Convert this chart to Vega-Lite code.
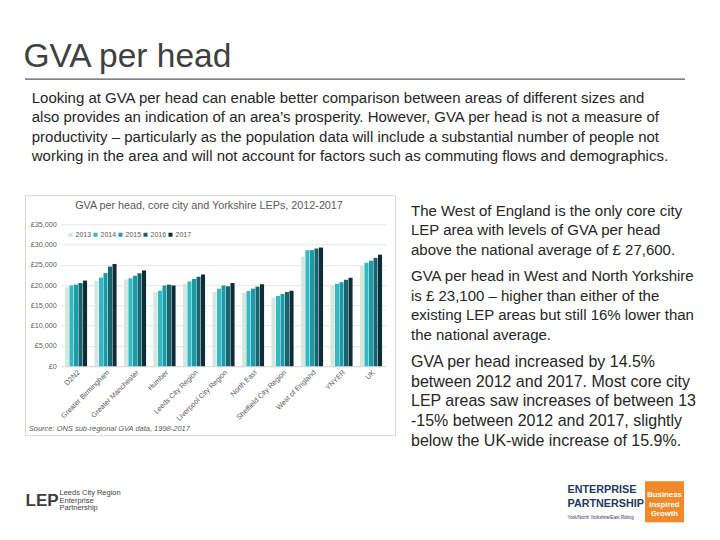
{
  "$schema": "https://vega.github.io/schema/vega-lite/v6.json",
  "background": "white",
  "padding": {"left": 23, "top": 40.2, "right": 5, "bottom": 5},
  "config": {
    "font": "Liberation Sans",
    "view": {"stroke": null},
    "title": {"font": "Liberation Sans", "subtitleFont": "Liberation Sans"},
    "axis": {"labelFont": "Liberation Sans", "titleFont": "Liberation Sans"},
    "legend": {"labelFont": "Liberation Sans"}
  },
  "bounds": "flush",
  "spacing": 0,
  "vconcat": [
    {
      "width": 660,
      "height": 0,
      "title": {
        "text": "GVA per head",
        "subtitle": [
          "\u200b\u00a0\u00a0Looking at GVA per head can enable better comparison between areas of different sizes and",
          "\u200b\u00a0\u00a0also provides an indication of an area’s prosperity. However, GVA per head is not a measure of",
          "\u200b\u00a0\u00a0productivity – particularly as the population data will include a substantial number of people not",
          "\u200b\u00a0\u00a0working in the area and will not account for factors such as commuting flows and demographics."
        ],
        "anchor": "start",
        "dx": -1,
        "fontSize": 33.5,
        "fontWeight": "normal",
        "color": "#404040",
        "subtitleFontSize": 15,
        "subtitleColor": "#262626",
        "subtitleLineHeight": 19.3,
        "subtitlePadding": 16.3,
        "offset": -95.8
      },
      "data": {"values": [{}]},
      "mark": {"type": "rule", "color": "#595959", "strokeWidth": 1.2},
      "encoding": {
        "x": {"datum": 0, "type": "quantitative", "scale": {"domain": [0, 1]}, "axis": null},
        "x2": {"datum": 1}
      }
    },
    {
      "width": 1,
      "height": 105.6,
      "data": {"values": [{}]},
      "mark": {"type": "rule"},
      "encoding": {}
    },
    {
      "vconcat": [
        {
          "width": 370,
          "height": 240,
          "view": {"stroke": "#d9d9d9", "strokeWidth": 1},
          "data": {"values": [{}]},
          "mark": {"type": "rule"},
          "encoding": {}
        }
      ]
    },
    {
      "width": 1,
      "height": 28.6,
      "data": {"values": [{}]},
      "mark": {"type": "rule"},
      "encoding": {}
    },
    {
      "bounds": "flush",
      "spacing": 24.25,
      "hconcat": [
        {
          "width": 12,
          "height": 142,
          "data": {"values": [{}]},
          "mark": {"type": "rule"},
          "encoding": {}
        },
        {
          "width": 324.5,
          "height": 142,
          "title": {
            "text": "GVA per head, core city and Yorkshire LEPs, 2012-2017",
            "fontSize": 10.8,
            "fontWeight": "normal",
            "color": "#595959",
            "anchor": "middle",
            "dx": -14.5,
            "offset": 9
          },
          "data": {
            "values": [
              {"area": "D2N2", "year": "2013", "gva": 19450},
              {"area": "D2N2", "year": "2014", "gva": 19900},
              {"area": "D2N2", "year": "2015", "gva": 20100},
              {"area": "D2N2", "year": "2016", "gva": 20500},
              {"area": "D2N2", "year": "2017", "gva": 21100},
              {"area": "Greater Birmingham", "year": "2013", "gva": 21050},
              {"area": "Greater Birmingham", "year": "2014", "gva": 21850},
              {"area": "Greater Birmingham", "year": "2015", "gva": 22950},
              {"area": "Greater Birmingham", "year": "2016", "gva": 24550},
              {"area": "Greater Birmingham", "year": "2017", "gva": 25200},
              {"area": "Greater Manchester", "year": "2013", "gva": 21350},
              {"area": "Greater Manchester", "year": "2014", "gva": 21650},
              {"area": "Greater Manchester", "year": "2015", "gva": 22300},
              {"area": "Greater Manchester", "year": "2016", "gva": 22900},
              {"area": "Greater Manchester", "year": "2017", "gva": 23600},
              {"area": "Humber", "year": "2013", "gva": 18350},
              {"area": "Humber", "year": "2014", "gva": 18600},
              {"area": "Humber", "year": "2015", "gva": 19900},
              {"area": "Humber", "year": "2016", "gva": 20100},
              {"area": "Humber", "year": "2017", "gva": 19900},
              {"area": "Leeds City Region", "year": "2013", "gva": 20300},
              {"area": "Leeds City Region", "year": "2014", "gva": 20900},
              {"area": "Leeds City Region", "year": "2015", "gva": 21500},
              {"area": "Leeds City Region", "year": "2016", "gva": 22050},
              {"area": "Leeds City Region", "year": "2017", "gva": 22600},
              {"area": "Liverpool City Region", "year": "2013", "gva": 18300},
              {"area": "Liverpool City Region", "year": "2014", "gva": 19100},
              {"area": "Liverpool City Region", "year": "2015", "gva": 19900},
              {"area": "Liverpool City Region", "year": "2016", "gva": 19700},
              {"area": "Liverpool City Region", "year": "2017", "gva": 20500},
              {"area": "North East", "year": "2013", "gva": 18100},
              {"area": "North East", "year": "2014", "gva": 18500},
              {"area": "North East", "year": "2015", "gva": 19100},
              {"area": "North East", "year": "2016", "gva": 19600},
              {"area": "North East", "year": "2017", "gva": 20200},
              {"area": "Sheffield City Region", "year": "2013", "gva": 16900},
              {"area": "Sheffield City Region", "year": "2014", "gva": 17300},
              {"area": "Sheffield City Region", "year": "2015", "gva": 17800},
              {"area": "Sheffield City Region", "year": "2016", "gva": 18300},
              {"area": "Sheffield City Region", "year": "2017", "gva": 18600},
              {"area": "West of England", "year": "2013", "gva": 27000},
              {"area": "West of England", "year": "2014", "gva": 28600},
              {"area": "West of England", "year": "2015", "gva": 28600},
              {"area": "West of England", "year": "2016", "gva": 29000},
              {"area": "West of England", "year": "2017", "gva": 29250},
              {"area": "YNYER", "year": "2013", "gva": 20000},
              {"area": "YNYER", "year": "2014", "gva": 20300},
              {"area": "YNYER", "year": "2015", "gva": 20700},
              {"area": "YNYER", "year": "2016", "gva": 21300},
              {"area": "YNYER", "year": "2017", "gva": 21800},
              {"area": "UK", "year": "2013", "gva": 24600},
              {"area": "UK", "year": "2014", "gva": 25500},
              {"area": "UK", "year": "2015", "gva": 26000},
              {"area": "UK", "year": "2016", "gva": 26700},
              {"area": "UK", "year": "2017", "gva": 27500}
            ]
          },
          "mark": {"type": "bar"},
          "encoding": {
            "x": {
              "field": "area",
              "type": "nominal",
              "sort": null,
              "scale": {"paddingInner": 0.25, "paddingOuter": 0.125},
              "axis": {
                "title": "Source: ONS sub-regional GVA data, 1998-2017",
                "titleFontStyle": "italic",
                "titleFontWeight": "normal",
                "titleFontSize": 7.5,
                "titleColor": "#595959",
                "titleX": -33,
                "titleY": 62,
                "titleAlign": "left",
                "titleBaseline": "middle",
                "labelAngle": -45,
                "labelFontSize": 7.2,
                "labelColor": "#595959",
                "labelPadding": 2,
                "ticks": false,
                "domainColor": "#d9d9d9"
              }
            },
            "y": {
              "field": "gva",
              "type": "quantitative",
              "scale": {"domain": [0, 35000], "nice": false},
              "axis": {
                "title": null,
                "values": [0, 5000, 10000, 15000, 20000, 25000, 30000, 35000],
                "labelExpr": "'£' + format(datum.value, ',')",
                "gridColor": "#e6e6e6",
                "domain": false,
                "ticks": false,
                "labelFontSize": 7.2,
                "labelColor": "#595959",
                "labelPadding": 5
              }
            },
            "xOffset": {"field": "year", "type": "nominal", "scale": {"paddingInner": 0.1}},
            "color": {
              "field": "year",
              "type": "nominal",
              "scale": {
                "domain": ["2013", "2014", "2015", "2016", "2017"],
                "range": ["#d6e7df", "#33b8c4", "#1c9aa5", "#17646e", "#0e2d37"]
              },
              "legend": {
                "title": null,
                "orient": "none",
                "legendX": 42,
                "legendY": 161.8,
                "direction": "horizontal",
                "symbolType": "square",
                "symbolSize": 16,
                "symbolStrokeWidth": 0,
                "labelFontSize": 7,
                "labelColor": "#595959",
                "labelOffset": 1.5,
                "columnPadding": 0,
                "padding": 0
              }
            }
          }
        },
        {
          "width": 1,
          "height": 142,
          "data": {
            "values": [
              {"para": 1, "line": 0, "text": "The West of England is the only core city"},
              {"para": 1, "line": 1, "text": "LEP area with levels of GVA per head"},
              {"para": 1, "line": 2, "text": "above the national average of £ 27,600."},
              {"para": 2, "line": 3, "text": "GVA per head in West and North Yorkshire"},
              {"para": 2, "line": 4, "text": "is £ 23,100 – higher than either of the"},
              {"para": 2, "line": 5, "text": "existing LEP areas but still 16% lower than"},
              {"para": 2, "line": 6, "text": "the national average."},
              {"para": 3, "line": 7, "text": "GVA per head increased by 14.5%"},
              {"para": 3, "line": 8, "text": "between 2012 and 2017. Most core city"},
              {"para": 3, "line": 9, "text": "LEP areas saw increases of between 13"},
              {"para": 3, "line": 10, "text": "-15% between 2012 and 2017, slightly"},
              {"para": 3, "line": 11, "text": "below the UK-wide increase of 15.9%."}
            ]
          },
          "encoding": {
            "y": {"field": "line", "type": "quantitative", "scale": {"domain": [0, 7.19], "reverse": true, "nice": false, "zero": false}, "axis": null},
            "text": {"field": "text"}
          },
          "layer": [
            {"transform": [{"filter": "datum.para == 1"}], "mark": {"type": "text", "align": "left", "baseline": "middle", "fontSize": 15, "color": "#262626", "dy": -13.6}},
            {"transform": [{"filter": "datum.para == 2"}], "mark": {"type": "text", "align": "left", "baseline": "middle", "fontSize": 15, "color": "#262626", "dy": -7.6}},
            {"transform": [{"filter": "datum.para == 3"}], "mark": {"type": "text", "align": "left", "baseline": "middle", "fontSize": 16, "color": "#262626", "dy": -0.5}}
          ]
        }
      ]
    },
    {
      "width": 1,
      "height": 256.4,
      "data": {"values": [{}]},
      "mark": {"type": "rule"},
      "encoding": {}
    },
    {
      "bounds": "flush",
      "spacing": 541,
      "hconcat": [
        {
          "width": 1,
          "height": 41,
          "layer": [
            {
              "data": {"values": [{"t": "LEP"}]},
              "mark": {"type": "text", "align": "left", "baseline": "middle", "fontWeight": "bold", "fontSize": 17, "color": "#3d3d3d", "dy": -1},
              "encoding": {"text": {"field": "t"}}
            },
            {
              "data": {"values": [{"t": ["Leeds City Region", "Enterprise", "Partnership"]}]},
              "mark": {"type": "text", "align": "left", "baseline": "middle", "fontSize": 7.5, "lineHeight": 7.8, "color": "#404040", "dx": 34, "dy": -8.8},
              "encoding": {"text": {"field": "t"}}
            }
          ]
        },
        {
          "bounds": "flush",
          "spacing": 77,
          "hconcat": [
            {
              "width": 1,
              "height": 41,
              "layer": [
                {
                  "data": {"values": [{"t": "ENTERPRISE"}]},
                  "mark": {"type": "text", "align": "left", "baseline": "middle", "fontWeight": "bold", "fontSize": 10.8, "color": "#1e3a5f", "dy": -11.5},
                  "encoding": {"text": {"field": "t"}}
                },
                {
                  "data": {"values": [{"t": "PARTNERSHIP"}]},
                  "mark": {"type": "text", "align": "left", "baseline": "middle", "fontWeight": "bold", "fontSize": 10.8, "color": "#1e3a5f", "dy": 2.8},
                  "encoding": {"text": {"field": "t"}}
                },
                {
                  "data": {"values": [{"t": "York/North Yorkshire/East Riding"}]},
                  "mark": {"type": "text", "align": "left", "baseline": "middle", "fontSize": 4.6, "color": "#1e3a5f", "dy": 16.2},
                  "encoding": {"text": {"field": "t"}}
                }
              ]
            },
            {
              "width": 39,
              "height": 41,
              "view": {"fill": "#f0892a", "stroke": null},
              "data": {"values": [{"t": ["Business", "Inspired", "Growth"]}]},
              "mark": {"type": "text", "align": "center", "baseline": "middle", "fontWeight": "bold", "fontSize": 7.8, "lineHeight": 9.4, "color": "white", "dy": -6.5},
              "encoding": {"text": {"field": "t"}}
            }
          ]
        }
      ]
    }
  ]
}
